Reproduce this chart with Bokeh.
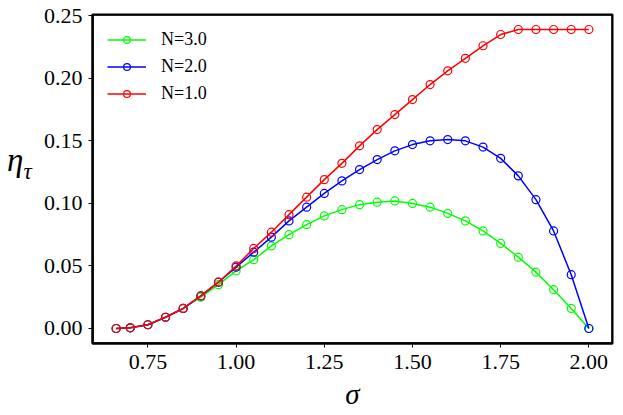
from bokeh.plotting import figure
from bokeh.models import Range1d, FixedTicker, BoxAnnotation, Div
from bokeh.layouts import row
from bokeh.embed import file_html
from bokeh.resources import INLINE

sigma = [0.66, 0.70, 0.75, 0.80, 0.85, 0.90, 0.95, 1.00, 1.05, 1.10, 1.15, 1.20, 1.25, 1.30,
         1.35, 1.40, 1.45, 1.50, 1.55, 1.60, 1.65, 1.70, 1.75, 1.80, 1.85, 1.90, 1.95, 2.00]

eta_n3 = [0.0, 0.0005, 0.003, 0.009, 0.016, 0.025, 0.035, 0.046, 0.055, 0.066, 0.075, 0.083, 0.090, 0.095,
          0.099, 0.101, 0.102, 0.100, 0.097, 0.092, 0.086, 0.078, 0.068, 0.057, 0.045, 0.031, 0.016, 0.0]
eta_n2 = [0.0, 0.0005, 0.003, 0.009, 0.016, 0.026, 0.037, 0.049, 0.061, 0.073, 0.086, 0.097, 0.108, 0.118,
          0.127, 0.135, 0.142, 0.147, 0.150, 0.151, 0.150, 0.145, 0.136, 0.122, 0.103, 0.078, 0.043, 0.0]
eta_n1 = [0.0, 0.0005, 0.003, 0.009, 0.016, 0.026, 0.037, 0.050, 0.064, 0.077, 0.091, 0.105, 0.119, 0.132,
          0.146, 0.159, 0.171, 0.183, 0.195, 0.206, 0.216, 0.226, 0.235, 0.239, 0.239, 0.239, 0.239, 0.239]

series_labels = ["N=3.0", "N=2.0", "N=1.0"]
series_colors = ["#00ff00", "#0000ff", "#ff0000"]

x_ticks = [0.75, 1.00, 1.25, 1.50, 1.75, 2.00]
x_tick_labels = ["0.75", "1.00", "1.25", "1.50", "1.75", "2.00"]
y_ticks = [0.00, 0.05, 0.10, 0.15, 0.20, 0.25]
y_tick_labels = ["0.00", "0.05", "0.10", "0.15", "0.20", "0.25"]

x_label = "σ"
y_label_main = "η"
y_label_sub = "τ"

FONT = "Liberation Serif"
X_START, X_END = 0.593, 2.067
Y_START, Y_END = -0.012, 0.251

p = figure(frame_width=520, frame_height=329, output_backend="svg", toolbar_location=None,
           x_range=Range1d(X_START, X_END), y_range=Range1d(Y_START, Y_END),
           min_border_left=51, min_border_right=10, min_border_top=14, min_border_bottom=70)
p.background_fill_color = "white"
p.border_fill_color = "white"
p.outline_line_color = "black"
p.outline_line_width = 2
p.xgrid.visible = False
p.ygrid.visible = False

for ys, lab, col in zip([eta_n3, eta_n2, eta_n1], series_labels, series_colors):
    p.line(sigma, ys, line_color=col, line_width=1.5, legend_label=lab)
    p.scatter(sigma, ys, marker="circle", size=8, fill_color=None, line_color=col,
              line_width=1.2, legend_label=lab)

p.add_layout(BoxAnnotation(left=X_START, right=X_END, bottom=Y_START, top=Y_END,
                           fill_color=None, fill_alpha=0, line_color="black",
                           line_width=2.5, line_alpha=1, level="overlay"))

xax = p.below[0]
yax = p.left[0]
for ax, ticks, labs in [(xax, x_ticks, x_tick_labels), (yax, y_ticks, y_tick_labels)]:
    ax.ticker = FixedTicker(ticks=ticks)
    ax.major_label_overrides = {t: l for t, l in zip(ticks, labs)}
    ax.axis_line_color = "black"
    ax.axis_line_width = 2
    ax.major_tick_in = 0
    ax.major_tick_out = 4
    ax.major_tick_line_color = "black"
    ax.major_tick_line_width = 1
    ax.minor_tick_line_color = None
    ax.major_label_text_font = FONT
    ax.major_label_text_font_size = "22px"
    ax.major_label_text_color = "black"
xax.major_label_standoff = 7
yax.major_label_standoff = 6

xax.axis_label = x_label
xax.axis_label_text_font = FONT
xax.axis_label_text_font_style = "italic"
xax.axis_label_text_font_size = "29px"
xax.axis_label_text_color = "black"
xax.axis_label_standoff = 6

lg = p.legend[0]
lg.location = "top_left"
lg.margin = 15
lg.padding = 10
lg.border_line_color = None
lg.background_fill_alpha = 0
lg.glyph_width = 39
lg.glyph_height = 17
lg.label_height = 17
lg.spacing = 6
lg.label_standoff = 15
lg.label_text_font = FONT
lg.label_text_font_size = "18px"
lg.label_text_color = "black"

ylab = Div(
    text=(f'<div style="padding-top:141px; padding-left:7px; white-space:nowrap; '
          f'font-family:\'{FONT}\'; font-style:italic; color:black; line-height:38px;">'
          f'<span style="font-size:33px;">{y_label_main}</span>'
          f'<span style="font-size:23px; position:relative; top:8px;">{y_label_sub}</span></div>'),
    width=40, height=400, margin=(0, 0, 0, 0))

layout = row(ylab, p)
open("out.html", "w").write(file_html(layout, INLINE))
